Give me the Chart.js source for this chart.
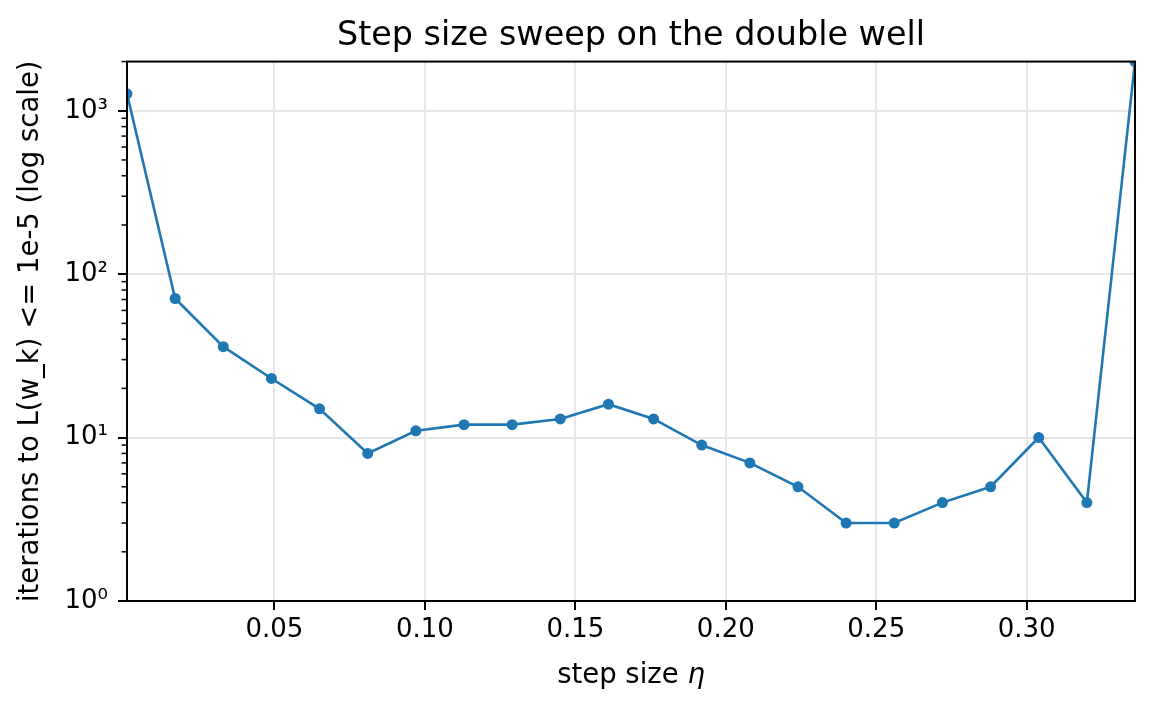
<!DOCTYPE html>
<html>
<head>
<meta charset="utf-8">
<script src="https://cdn.jsdelivr.net/npm/chart.js@4.4.0/dist/chart.umd.min.js"></script>
<style>
body{margin:0;background:#fff}
</style>
</head>
<body>
<canvas id="myChart" width="1155" height="712"></canvas>
<script>
// step sizes (x) and iterations needed (y)
let etaValues=[0.001,0.017,0.033,0.049,0.065,0.081,0.097,0.113,0.129,0.145,0.161,0.176,0.192,0.208,0.224,0.240,0.256,0.272,0.288,0.304,0.320,0.336]
let iterValues=[1270,71,36,23,15,8,11,12,12,13,16,13,9,7,5,3,3,4,5,10,4,2000]
let xTicks=[0.05,0.10,0.15,0.20,0.25,0.30]
let yTicks=[1,10,100,1000]
let sup=['⁰','¹','²','³']

Chart.defaults.font.family="'DejaVu Sans', sans-serif"
Chart.defaults.color='#000'

let points=[]
for(let i=0;i<etaValues.length;i++){
  points.push({x:etaValues[i],y:iterValues[i]})
}

// spines, minor log ticks and the x label (with italic eta)
const frame={
  id:'frame',
  afterDatasetsDraw(chart){
    const c=chart.ctx
    const a=chart.chartArea
    const ys=chart.scales.y
    c.save()
    c.strokeStyle='#000'
    c.lineWidth=1.5
    for(let d of yTicks){
      for(let k=2;k<10;k++){
        let v=k*d
        if(v>ys.max) continue
        let py=ys.getPixelForValue(v)
        c.beginPath()
        c.moveTo(a.left-5.5,py)
        c.lineTo(a.left,py)
        c.stroke()
      }
    }
    c.lineWidth=2
    c.strokeRect(a.left,a.top,a.right-a.left,a.bottom-a.top)

    c.fillStyle='#000'
    c.textBaseline='alphabetic'
    c.textAlign='left'
    let f1="27.5px 'DejaVu Sans'"
    let f2="italic 27.5px 'DejaVu Sans'"
    c.font=f1
    let w1=c.measureText('step size ').width
    c.font=f2
    let w2=c.measureText('η').width
    let x0=(a.left+a.right)/2-(w1+w2)/2
    let by=a.bottom+82
    c.font=f1
    c.fillText('step size ',x0,by)
    c.font=f2
    c.fillText('η',x0+w1,by)
    c.restore()
  }
}

const ctx=document.getElementById('myChart')

new Chart(ctx,{
  type:'line',
  data:{
    datasets:[{
      data:points,
      borderColor:'#1f77b4',
      backgroundColor:'#1f77b4',
      borderWidth:2.6,
      pointRadius:5.5,
      pointBorderWidth:0,
      pointBackgroundColor:'#1f77b4',
      tension:0,
      clip:0
    }]
  },
  options:{
    responsive:false,
    animation:false,
    layout:{padding:{left:0,right:20,top:0,bottom:0}},
    plugins:{
      legend:{display:false},
      tooltip:{enabled:false},
      title:{
        display:true,
        text:'Step size sweep on the double well',
        fullSize:false,
        font:{size:33.4,weight:'normal'},
        color:'#000',
        padding:{top:16,bottom:5.5}
      }
    },
    scales:{
      x:{
        type:'linear',
        min:0.001,
        max:0.336,
        afterBuildTicks(s){s.ticks=xTicks.map(v=>({value:v}))},
        afterFit(s){s.height=111},
        border:{display:false},
        grid:{color:'#e6e6e6',lineWidth:2,tickLength:9,tickColor:'#000',tickWidth:2},
        ticks:{font:{size:26},padding:5,maxRotation:0,autoSkip:false,callback:v=>Number(v).toFixed(2)}
      },
      y:{
        type:'logarithmic',
        min:1,
        max:2000,
        afterBuildTicks(s){s.ticks=yTicks.map(v=>({value:v}))},
        afterFit(s){s.width=127},
        border:{display:false},
        grid:{color:'#e6e6e6',lineWidth:2,tickLength:9,tickColor:'#000',tickWidth:2},
        ticks:{font:{size:26},padding:10,autoSkip:false,callback:v=>'10'+sup[Math.round(Math.log10(v))]},
        title:{
          display:true,
          text:'iterations to L(w_k) <= 1e-5 (log scale)',
          font:{size:27.5},
          color:'#000',
          padding:{top:14,bottom:0}
        }
      }
    }
  },
  plugins:[frame]
})
</script>
</body>
</html>
